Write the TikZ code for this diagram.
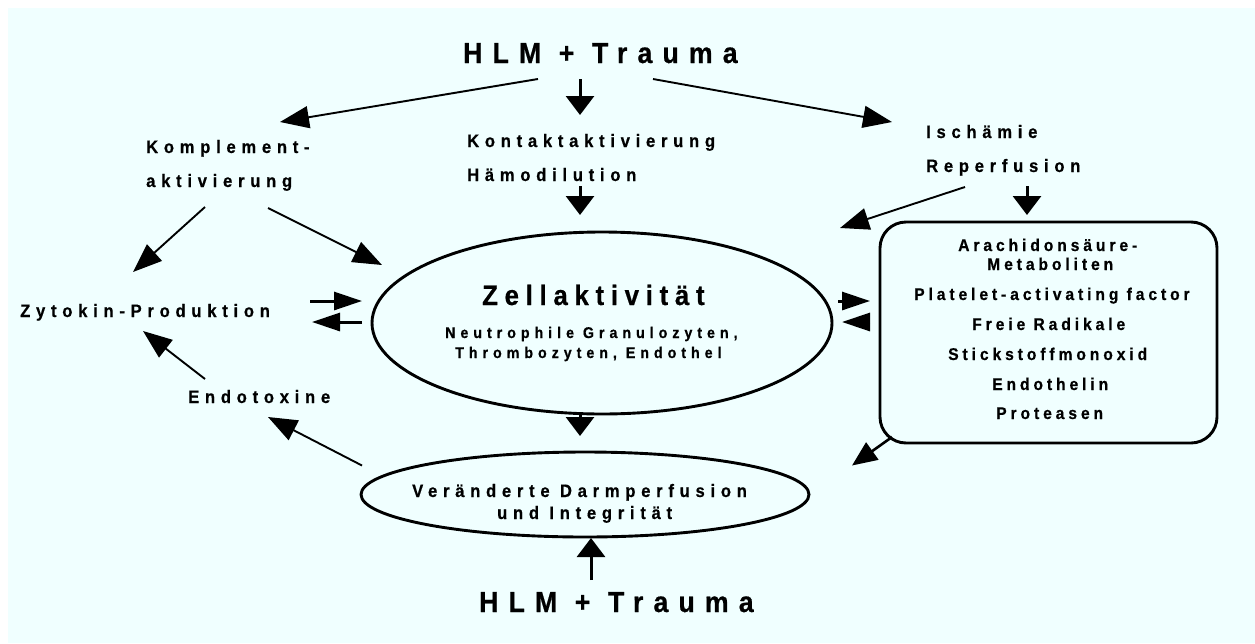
\documentclass[tikz,border=0pt]{standalone}
\usepackage{fontspec}
\setmainfont{Liberation Sans}
\newfontfamily\lblfont{Liberation Sans}[FakeStretch=0.92,FakeBold=0.6,LetterSpace=32]
\newfontfamily\boxfont{Liberation Sans}[FakeStretch=0.92,FakeBold=0.6,LetterSpace=23]
\newfontfamily\cellfont{Liberation Sans}[FakeStretch=0.92,FakeBold=0.6,LetterSpace=32]
\newfontfamily\hlmfont{Liberation Sans}[FakeStretch=0.92,FakeBold=0.6,LetterSpace=35]
\newfontfamily\zellfont{Liberation Sans}[FakeStretch=0.92,FakeBold=0.6,LetterSpace=24]
\usetikzlibrary{shapes.geometric, arrows.meta}
\definecolor{bgcyan}{RGB}{240,255,255}

\begin{document}
\begin{tikzpicture}[x=1pt, y=-1pt,
    lbl/.style={anchor=base west, inner sep=0pt, font=\lblfont\bfseries\fontsize{18}{20}\selectfont},
    boxtxt/.style={anchor=base west, inner sep=0pt, font=\boxfont\bfseries\fontsize{17}{20}\selectfont},
    celltxt/.style={anchor=base west, inner sep=0pt, font=\cellfont\bfseries\fontsize{15.5}{18}\selectfont},
    hlm/.style={anchor=base west, inner sep=0pt, font=\hlmfont\bfseries\fontsize{29}{32}\selectfont},
    zelltitle/.style={anchor=base west, inner sep=0pt, font=\zellfont\bfseries\fontsize{28}{32}\selectfont},
    oval/.style={draw, ellipse, line width=2.9pt, inner sep=0pt, outer sep=0pt},
    roundbox/.style={draw, rounded corners=26pt, line width=2.9pt, inner sep=0pt, outer sep=0pt,
        minimum width=337pt, minimum height=221pt},
    thinarr/.style={line width=1.9pt, -{Triangle[length=29pt, width=22pt]}},
    midarr/.style={line width=2.6pt, -{Triangle[length=25pt, width=21pt]}},
    fatv/.style={line width=3pt, -{Triangle[length=19pt, width=28pt]}},
    fath/.style={line width=3pt, -{Triangle[length=28pt, width=18pt]}}]
    \useasboundingbox (0,0) rectangle (1255,643);
    \fill[bgcyan] (8,8) rectangle (1255,643);

    % Texte
    \node[hlm] (hlmtop) at (463,63) {HLM + Trauma};
    \node[lbl] (kontakt) at (467,147) {Kontaktaktivierung};
    \node[lbl] (haemo) at (467,181) {Hämodilution};
    \node[lbl] (kompl1) at (146,153) {Komplement-};
    \node[lbl] (kompl2) at (146,187) {aktivierung};
    \node[lbl] (isch) at (926,138) {Ischämie};
    \node[lbl] (reperf) at (926,172) {Reperfusion};
    \node[lbl] (zyto) at (20,317) {Zytokin-Produktion};
    \node[lbl] (endo) at (188,403) {Endotoxine};

    \node[oval, minimum width=460pt, minimum height=182pt] (zell) at (602,323) {};
    \node[zelltitle] (zelltxt) at (482,305) {Zellaktivität};
    \node[celltxt] (cells1) at (445,338) {Neutrophile Granulozyten,};
    \node[celltxt] (cells2) at (455,358) {Thrombozyten, Endothel};

    \node[oval, minimum width=448pt, minimum height=85pt] (darm) at (585,494.5) {};
    \node[lbl] (darm1) at (412,497) {Veränderte Darmperfusion};
    \node[lbl] (darm2) at (497,519) {und Integrität};
    \node[hlm] (hlmbot) at (479,612) {HLM + Trauma};

    \node[roundbox] (box) at (1048.5,332.5) {};
    \node[boxtxt] (med1) at (958,251) {Arachidonsäure-};
    \node[boxtxt] (med2) at (987,270) {Metaboliten};
    \node[boxtxt] (med3) at (914,300) {Platelet-activating factor};
    \node[boxtxt] (med4) at (972,330) {Freie Radikale};
    \node[boxtxt] (med5) at (948,360) {Stickstoffmonoxid};
    \node[boxtxt] (med6) at (992,390) {Endothelin};
    \node[boxtxt] (med7) at (996,419) {Proteasen};

    % Pfeile
    \draw[fatv] ([shift={(117,16)}]hlmtop.base west) -- ([shift={(113,-32)}]kontakt.base west);
    \draw[thinarr] ([shift={(75,16)}]hlmtop.base west) -- ([shift={(134,-31)}]kompl1.base west);
    \draw[thinarr] ([shift={(190,16)}]hlmtop.base west) -- ([shift={(-34,-16)}]isch.base west);
    \draw[fatv] ([shift={(113,5)}]haemo.base west) -- ([shift={(-22,-17)}]zell.north);
    \draw[fatv] ([shift={(101,14)}]reperf.base west) -- ([shift={(-21.5,-7)}]box.north);
    \draw[thinarr] ([shift={(39,15)}]reperf.base west) -- ([shift={(-40,6)}]box.north west);
    \draw[thinarr] ([shift={(59,20)}]kompl2.base west) -- ([shift={(113,-45)}]zyto.base west);
    \draw[thinarr] ([shift={(122,21)}]kompl2.base west) -- ([shift={(10,-58)}]zell.west);
    \draw[fath] ([shift={(290,-16)}]zyto.base west) -- ([shift={(-10,-22)}]zell.west);
    \draw[fath] ([shift={(-10,-1)}]zell.west) -- ([shift={(292,5)}]zyto.base west);
    \draw[fath] ([shift={(6,-22)}]zell.east) -- ([shift={(-10,-31.5)}]box.west);
    \draw[fath] ([shift={(-10,-10.5)}]box.west) -- ([shift={(10,-1)}]zell.east);
    \draw[thinarr] ([shift={(17,-24)}]endo.base west) -- ([shift={(123,14)}]zyto.base west);
    \draw[thinarr] ([shift={(1,-29)}]darm.west) -- ([shift={(80,14)}]endo.base west);
    \draw[fatv] ([shift={(-22,0)}]zell.south) -- ([shift={(-5,-16)}]darm.north);
    \draw[fatv] ([shift={(112,-32)}]hlmbot.base west) -- ([shift={(6,1)}]darm.south);
    \draw[midarr] ([shift={(12,-6)}]box.south west) -- ([shift={(43,-29)}]darm.east);
\end{tikzpicture}
\end{document}
